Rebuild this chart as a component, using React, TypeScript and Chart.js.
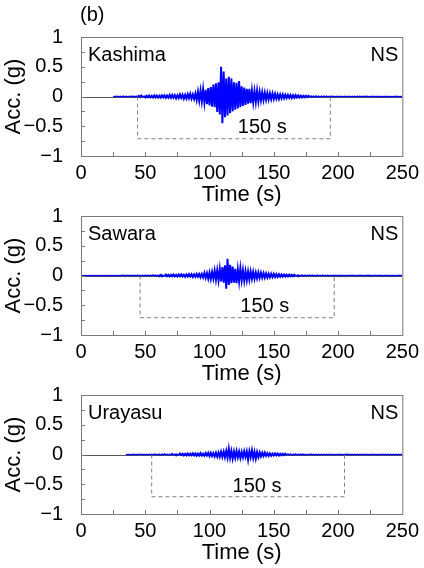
import { useEffect, useRef } from "react";
import { Chart, registerables } from "chart.js";
Chart.register(...registerables);

const FONT = "'Liberation Sans', Arial, sans-serif";

const panelTag = "(b)";
const stations = ["Kashima", "Sawara", "Urayasu"];
const component = "NS";
const xTickValues = [0, 50, 100, 150, 200, 250];
const yTickValues = [-1, -0.5, 0, 0.5, 1];
const xTitle = "Time (s)";
const yTitle = "Acc. (g)";

// acceleration samples (g), one per second, starting at the given time
const kashimaStart = 25;
const kashimaAcc = [
  0.003, -0.004, 0.006, -0.003, 0.004, -0.006, 0.005, -0.004, 0.007, -0.005,
  0.004, -0.007, 0.006, -0.005, 0.009, -0.006, 0.008, -0.01, 0.007, -0.009,
  0.012, -0.009, 0.015, -0.011, 0.01, -0.016, 0.013, -0.01, 0.018, -0.014,
  0.011, -0.017, 0.02, -0.012, 0.016, -0.02, 0.014, -0.018, 0.022, -0.015,
  0.019, -0.024, 0.017, -0.02, 0.026,
  -0.021, 0.028, -0.019, 0.024, -0.03, 0.022, -0.026, 0.034, -0.024, 0.03,
  -0.038, 0.028, -0.033, 0.04, -0.03, 0.045, -0.036, 0.034, -0.042, 0.05,
  -0.06, 0.08, -0.07, 0.1, -0.08, 0.12, -0.1, 0.11, -0.13, 0.14,
  -0.15, 0.16, -0.17, 0.2, -0.18, 0.22, -0.26, 0.24, -0.3, 0.5,
  -0.45, 0.42, -0.35, 0.3, -0.32, 0.33, -0.28, 0.3, -0.25, 0.24,
  -0.22, 0.23, -0.2, 0.26, -0.18, 0.17, -0.16, 0.15, -0.14, 0.13,
  -0.12, 0.13, -0.11, 0.1, -0.1, 0.09, -0.09, 0.1, -0.08, 0.08,
  -0.065, 0.07, -0.06, 0.065, -0.055, 0.06, -0.05, 0.055, -0.045, 0.05,
  -0.042, 0.045, -0.038, 0.036, -0.04, 0.034, -0.03, 0.035, -0.028, 0.03,
  -0.026, 0.028, -0.022, 0.025, -0.023, 0.02, -0.021, 0.022, -0.018, 0.019,
  -0.015, 0.013, -0.016, 0.012, -0.011, 0.014, -0.01, 0.012, -0.011, 0.009,
  -0.01, 0.011, -0.008, 0.009, -0.01, 0.008, -0.007, 0.009, -0.008, 0.007,
  -0.006, 0.008, -0.007, 0.006, -0.006, 0.007, -0.005, 0.006, -0.006, 0.005,
  -0.005, 0.006, -0.004, 0.005, -0.006, 0.005, -0.004, 0.004, -0.005, 0.006,
  -0.004, 0.004, -0.005, 0.004, -0.004, 0.005, -0.003, 0.004, -0.005, 0.004,
  -0.003, 0.004, -0.003, 0.005, -0.004, 0.003, -0.003, 0.004, -0.003, 0.003,
  -0.003, 0.004, -0.004, 0.003, -0.003, 0.003, -0.004, 0.004, -0.003, 0.003,
  -0.003, 0.003, -0.004, 0.003, -0.003, 0.004, -0.002, 0.003, -0.003, 0.003, -0.002,
];

const sawaraStart = 0;
const sawaraAcc = [
  0.001, -0.001, 0.001, -0.001, 0.001, -0.001, 0.001, -0.001, 0.001, -0.001,
  0.001, -0.001, 0.001, -0.001, 0.001, -0.001, 0.001, -0.001, 0.001, -0.001,
  0.001, -0.001, 0.002, -0.001, 0.001, -0.002, 0.002, -0.001, 0.002, -0.002,
  0.003, -0.004, 0.005, -0.003, 0.004, -0.005, 0.004, -0.003, 0.006, -0.004,
  0.005, -0.006, 0.004, -0.005, 0.007, -0.005, 0.006, -0.008, 0.006, -0.006,
  0.008, -0.007, 0.006, -0.009, 0.008, -0.006, 0.01, -0.008, 0.009, -0.011,
  0.01, -0.012, 0.009, -0.013, 0.011, -0.01, 0.015, -0.012, 0.011, -0.016,
  0.013, -0.011, 0.017, -0.014, 0.012, -0.018, 0.016, -0.013, 0.019, -0.015,
  0.014, -0.02, 0.018, -0.016, 0.023, -0.017, 0.021, -0.025, 0.019, -0.022,
  0.027, -0.021, 0.024, -0.029, 0.026,
  -0.03, 0.045, -0.04, 0.04, -0.055,
  0.05, -0.06, 0.06, -0.055, 0.08, -0.07, 0.09, -0.08, 0.11, -0.1,
  0.14, -0.12, 0.17, -0.22, 0.28, -0.16, 0.18, -0.13, 0.15, -0.12,
  0.11, -0.13, 0.1, -0.1, 0.12, -0.08, 0.09, -0.09, 0.07, -0.08,
  0.065, -0.07, 0.07, -0.055, 0.06, -0.055, 0.05, -0.048, 0.05, -0.042,
  0.045, -0.038, 0.04, -0.036, 0.034, -0.035, 0.03, -0.031, 0.029, -0.026,
  0.027, -0.024, 0.022, -0.025, 0.02, -0.021, 0.018, -0.019, 0.016, -0.017,
  0.015, -0.014, 0.016, -0.012, 0.013, -0.011, 0.014, -0.01, 0.011, -0.012,
  0.01, -0.009, 0.011, -0.009, 0.008, -0.01, 0.008, -0.007, 0.009, -0.007,
  0.007, -0.008, 0.006, -0.007, 0.008, -0.006, 0.006, -0.005, 0.007, -0.005,
  0.005, -0.006, 0.005, -0.005, 0.004, -0.006, 0.005, -0.004, 0.005, -0.004,
  0.004, -0.005, 0.004, -0.004, 0.005, -0.004, 0.004, -0.004, 0.006, -0.004,
  0.004, -0.003, 0.004, -0.004, 0.003, -0.004, 0.005, -0.003, 0.004, -0.004,
  0.003, -0.004, 0.004, -0.003, 0.004, -0.003, 0.003, -0.004, 0.005, -0.003,
  0.003, -0.003, 0.004, -0.003, 0.003, -0.004, 0.003, -0.003, 0.004, -0.003,
  0.003, -0.003, 0.003, -0.004, 0.003, -0.003, 0.003, -0.003, 0.004, -0.003, 0.003,
];

const urayasuStart = 35;
const urayasuAcc = [
  0.002, -0.002, 0.003, -0.002, 0.003, -0.003, 0.004, -0.003, 0.003, -0.004,
  0.004, -0.003, 0.005, -0.004, 0.004, -0.005, 0.006, -0.004, 0.005, -0.006,
  0.004, -0.006, 0.007, -0.005, 0.006,
  -0.007, 0.006, -0.009, 0.007, -0.006, 0.01, -0.007, 0.008, -0.011, 0.007,
  -0.009, 0.012, -0.008, 0.01, -0.013, 0.009, -0.011, 0.015, -0.01, 0.012,
  -0.016, 0.011, -0.014, 0.018, -0.012, 0.016, -0.013, 0.02, -0.015, 0.017,
  -0.02, 0.016, -0.018, 0.022, -0.017,
  0.015, -0.02, 0.025, -0.018, 0.028,
  -0.025, 0.03, -0.028, 0.022, -0.035, 0.03, -0.038, 0.03, -0.04, 0.045,
  -0.04, 0.05, -0.045, 0.06, -0.05, 0.1, -0.055, 0.06, -0.07, 0.05,
  -0.055, 0.06, -0.045, 0.05, -0.06, 0.04, -0.05, 0.055, -0.04, 0.05,
  -0.09, 0.055, -0.045, 0.07, -0.06, 0.045, -0.07, 0.04, -0.045, 0.035,
  -0.035, 0.03, -0.025, 0.032, -0.022, 0.02, -0.025, 0.018, -0.02, 0.016,
  -0.016, 0.018, -0.014, 0.015, -0.017, 0.012, -0.011, 0.014, -0.01, 0.012,
  -0.01, 0.011, -0.009, 0.011, -0.01, 0.008, -0.009, 0.01, -0.008, 0.007,
  -0.008, 0.009, -0.006, 0.007, -0.007, 0.006, -0.008, 0.006, -0.005, 0.007,
  -0.006, 0.005, -0.006, 0.005, -0.007, 0.005, -0.005, 0.006, -0.004, 0.005,
  -0.005, 0.004, -0.006, 0.004, -0.005, 0.005, -0.004, 0.006, -0.004, 0.005,
  -0.005, 0.004, -0.006, 0.004, -0.005, 0.004, -0.004, 0.007, -0.004, 0.005,
  -0.004, 0.005, -0.004, 0.004, -0.006, 0.004, -0.004, 0.005, -0.004, 0.006,
  -0.004, 0.004, -0.005, 0.004, -0.004, 0.006, -0.004, 0.004, -0.005, 0.004,
  -0.004, 0.005, -0.004, 0.004, -0.006, 0.004, -0.004, 0.005, -0.004, 0.004,
  -0.005, 0.004, -0.004, 0.005, -0.004, 0.006, -0.004, 0.004, -0.005, 0.004, -0.004,
];

const seriesStart = [kashimaStart, sawaraStart, urayasuStart];
const seriesAcc = [kashimaAcc, sawaraAcc, urayasuAcc];

// 150 s duration brackets (s) and depth (g)
const bracketStart = [44, 46, 55];
const bracketEnd = [194, 197, 205];
const bracketDepth = [-0.71, -0.71, -0.71];
const durationText = "150 s";
const durationTextX = [141, 143, 137];
const durationTextY = [-0.52, -0.52, -0.54];

function tickText(v: number) {
  return v < 0 ? "\u2212" + String(Math.abs(v)) : String(v);
}

function makePlugin(i: number) {
  return {
    id: "panelDecor" + i,
    beforeDatasetsDraw(chart: any) {
      const { ctx, chartArea: a, scales } = chart;
      const y0 = Math.round(scales.y.getPixelForValue(0)) + 0.5;
      ctx.save();
      ctx.strokeStyle = "#555555";
      ctx.lineWidth = 1;
      ctx.beginPath();
      ctx.moveTo(a.left, y0);
      ctx.lineTo(a.right, y0);
      ctx.stroke();
      ctx.restore();
    },
    afterDraw(chart: any) {
      const { ctx, chartArea: a, scales } = chart;
      ctx.save();
      ctx.strokeStyle = "#7a7a7a";
      ctx.lineWidth = 1;
      ctx.strokeRect(a.left + 0.5, a.top + 0.5, a.right - a.left, a.bottom - a.top);
      ctx.beginPath();
      for (let v = 25; v < 250; v += 25) {
        const x = Math.round(scales.x.getPixelForValue(v)) + 0.5;
        ctx.moveTo(x, a.bottom);
        ctx.lineTo(x, a.bottom - 4);
      }
      for (let v = -0.75; v < 1; v += 0.25) {
        const y = Math.round(scales.y.getPixelForValue(v)) + 0.5;
        ctx.moveTo(a.left, y);
        ctx.lineTo(a.left + 4, y);
      }
      ctx.stroke();
      ctx.fillStyle = "#000";
      ctx.font = `20px ${FONT}`;
      ctx.textBaseline = "middle";
      ctx.textAlign = "left";
      ctx.fillText(stations[i], a.left + 7, a.top + 18);
      ctx.textAlign = "right";
      ctx.fillText(component, a.right - 4, a.top + 18);
      ctx.textAlign = "center";
      ctx.fillText(
        durationText,
        scales.x.getPixelForValue(durationTextX[i]),
        scales.y.getPixelForValue(durationTextY[i])
      );
      if (i === 0) {
        ctx.font = `20px ${FONT}`;
        ctx.textAlign = "left";
        ctx.fillText(panelTag, a.left - 1, 15);
      }
      ctx.restore();
    },
  };
}

function Panel({ index, top }: { index: number; top: number }) {
  const ref = useRef<HTMLCanvasElement | null>(null);
  useEffect(() => {
    if (!ref.current) return;
    const start = seriesStart[index];
    const wave = seriesAcc[index].map((v, k) => ({ x: start + k, y: v }));
    const bracket = [
      { x: bracketStart[index], y: 0 },
      { x: bracketStart[index], y: bracketDepth[index] },
      { x: bracketEnd[index], y: bracketDepth[index] },
      { x: bracketEnd[index], y: 0 },
    ];
    const chart = new Chart(ref.current, {
      type: "line",
      data: {
        datasets: [
          {
            data: wave,
            borderColor: "#0000ff",
            borderWidth: 2,
            pointRadius: 0,
            tension: 0,
            segment: {
              borderWidth: (c: any) => {
                const m = Math.max(Math.abs(c.p0.parsed.y), Math.abs(c.p1.parsed.y));
                return m < 0.012 ? 1.3 : 2;
              },
            },
          },
          {
            data: bracket,
            borderColor: "#808080",
            borderWidth: 1,
            borderDash: [4, 3],
            pointRadius: 0,
            tension: 0,
          },
        ],
      },
      options: {
        animation: false,
        responsive: false,
        parsing: false,
        layout: { padding: { left: 0, right: 21, top: 37, bottom: 4 } },
        plugins: { legend: { display: false }, tooltip: { enabled: false } },
        scales: {
          x: {
            type: "linear",
            min: 0,
            max: 250,
            afterFit: (s: any) => {
              s.height = 52;
            },
            afterBuildTicks: (s: any) => {
              s.ticks = xTickValues.map((v) => ({ value: v }));
            },
            grid: { display: false, drawTicks: false },
            border: { display: false },
            ticks: {
              padding: 5,
              color: "#000",
              font: { family: FONT, size: 20 },
              maxRotation: 0,
              callback: (v: any) => tickText(v),
            },
            title: {
              display: true,
              text: xTitle,
              color: "#000",
              font: { family: FONT, size: 22 },
              padding: 0,
            },
          },
          y: {
            type: "linear",
            min: -1,
            max: 1,
            afterFit: (s: any) => {
              s.width = 81;
            },
            afterBuildTicks: (s: any) => {
              s.ticks = yTickValues.map((v) => ({ value: v }));
            },
            grid: { display: false, drawTicks: false },
            border: { display: false },
            ticks: {
              padding: 18,
              color: "#000",
              font: { family: FONT, size: 20 },
              callback: (v: any) => tickText(v),
            },
            title: {
              display: true,
              text: yTitle,
              color: "#000",
              font: { family: FONT, size: 22 },
              padding: { top: 1, bottom: 0 },
            },
          },
        },
      },
      plugins: [makePlugin(index)],
    } as any);
    return () => chart.destroy();
  }, [index]);
  return (
    <canvas
      ref={ref}
      width={424}
      height={212}
      style={{ position: "absolute", left: 0, top, width: 424, height: 212 }}
    />
  );
}

export default function App() {
  return (
    <div style={{ position: "absolute", left: 0, top: 0, width: 424, height: 568, background: "#fff", overflow: "hidden" }}>
      <Panel index={0} top={0} />
      <Panel index={1} top={179} />
      <Panel index={2} top={358} />
    </div>
  );
}
